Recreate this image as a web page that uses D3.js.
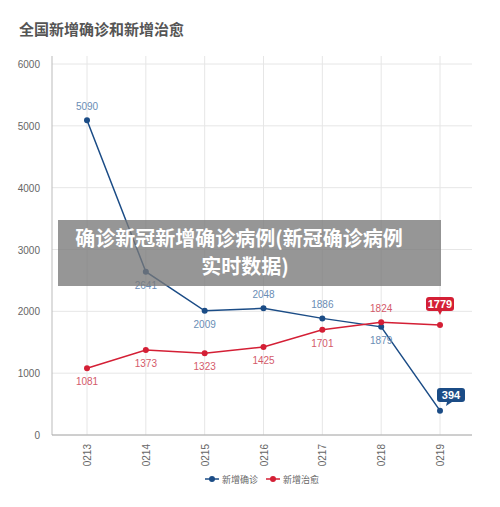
<!DOCTYPE html><html><head><meta charset="utf-8"><script src="https://d3js.org/d3.v7.min.js"></script>
<style>body{margin:0;background:#fff;font-family:"Noto Sans CJK SC","Noto Sans",sans-serif}</style></head><body><svg width="500" height="507"></svg>
<script>
const dates=["0213","0214","0215","0216","0217","0218","0219"];
const confirmed=[5090,2641,2009,2048,1886,1749,394];
const confirmedLabels=["5090","2641","2009","2048","1886","1879","394"];
const cured=[1081,1373,1323,1425,1701,1824,1779];
const yTicks=[0,1000,2000,3000,4000,5000,6000];
const svg=d3.select("svg");
svg.append("text").attr("x",19).attr("y",35).attr("font-size",15).attr("font-weight","bold").attr("fill","#555").text("全国新增确诊和新增治愈");
const x=d3.scalePoint().domain(dates).range([87,440]);
const y=d3.scaleLinear().domain([0,6000]).range([435,64]);
const g=svg.append("g");
yTicks.forEach(t=>{g.append("line").attr("x1",52).attr("x2",472).attr("y1",y(t)).attr("y2",y(t)).attr("stroke","#e6e6e6");
 g.append("text").attr("x",40).attr("y",y(t)+4).attr("text-anchor","end").attr("font-size",10).attr("fill","#666").attr("font-family","Liberation Sans").text(t);});
dates.forEach(d=>{g.append("line").attr("x1",x(d)).attr("x2",x(d)).attr("y1",56).attr("y2",435).attr("stroke","#e6e6e6");
 g.append("text").attr("transform",`translate(${x(d)+4},444) rotate(-90)`).attr("text-anchor","end").attr("font-size",10).attr("fill","#666").attr("font-family","Liberation Sans").text(d);});
g.append("line").attr("x1",52).attr("x2",52).attr("y1",56).attr("y2",435).attr("stroke","#bbb");
g.append("line").attr("x1",52).attr("x2",472).attr("y1",435).attr("y2",435).attr("stroke","#aaa");
const line=d3.line().x((d,i)=>x(dates[i])).y(d=>y(d));
function series(vals,col,lcol,labels,above){
 svg.append("path").attr("d",line(vals)).attr("fill","none").attr("stroke",col).attr("stroke-width",1.5);
 vals.forEach((v,i)=>svg.append("circle").attr("cx",x(dates[i])).attr("cy",y(v)).attr("r",3).attr("fill",col));
 vals.forEach((v,i)=>{if(i===6)return;svg.append("text").attr("x",x(dates[i])).attr("y",y(v)+(above[i]?-10:17)).attr("text-anchor","middle").attr("font-size",10).attr("fill",lcol).attr("font-family","Liberation Sans").text(labels[i]);});
}
series(confirmed,"#1b4c86","#6a8db5",confirmedLabels,[1,0,0,1,1,0,0]);
series(cured,"#d41f35","#d45a6a",cured.map(String),[0,0,0,0,0,1,1]);
function badge(cx,by,txt,col){
 svg.append("rect").attr("x",cx-14).attr("y",by).attr("width",28).attr("height",14).attr("rx",3).attr("fill",col);
 svg.append("path").attr("d",`M${cx-2},${by+14}L${cx+2},${by+14}L${cx},${by+18}Z`).attr("fill",col);
 svg.append("text").attr("x",cx).attr("y",by+11).attr("text-anchor","middle").attr("font-size",11).attr("font-weight","bold").attr("fill","#fff").attr("font-family","Liberation Sans").text(txt);
}
badge(x("0219"),297,"1779","#d41f35");
svg.append("rect").attr("x",437).attr("y",388).attr("width",28).attr("height",14).attr("rx",3).attr("fill","#1b4c86");
svg.append("path").attr("d","M447,402L452,402L446,406Z").attr("fill","#1b4c86");
svg.append("text").attr("x",451).attr("y",399).attr("text-anchor","middle").attr("font-size",11).attr("font-weight","bold").attr("fill","#fff").attr("font-family","Liberation Sans").text("394");
[["新增确诊","#1b4c86",205],["新增治愈","#d41f35",266]].forEach(([t,c,lx])=>{
 svg.append("line").attr("x1",lx).attr("x2",lx+14).attr("y1",479).attr("y2",479).attr("stroke",c).attr("stroke-width",1.5);
 svg.append("circle").attr("cx",lx+7).attr("cy",479).attr("r",3).attr("fill",c);
 svg.append("text").attr("x",lx+17).attr("y",483).attr("font-size",9).attr("fill","#666").text(t);});
svg.append("rect").attr("x",58).attr("y",220).attr("width",383).attr("height",66).attr("fill","rgba(120,120,120,0.78)");
svg.append("text").attr("x",239).attr("y",246).attr("text-anchor","middle").attr("font-size",20).attr("font-weight","bold").attr("fill","#fff").text("确诊新冠新增确诊病例(新冠确诊病例");
svg.append("text").attr("x",245).attr("y",274).attr("text-anchor","middle").attr("font-size",20).attr("font-weight","bold").attr("fill","#fff").text("实时数据)");
</script></body></html>
